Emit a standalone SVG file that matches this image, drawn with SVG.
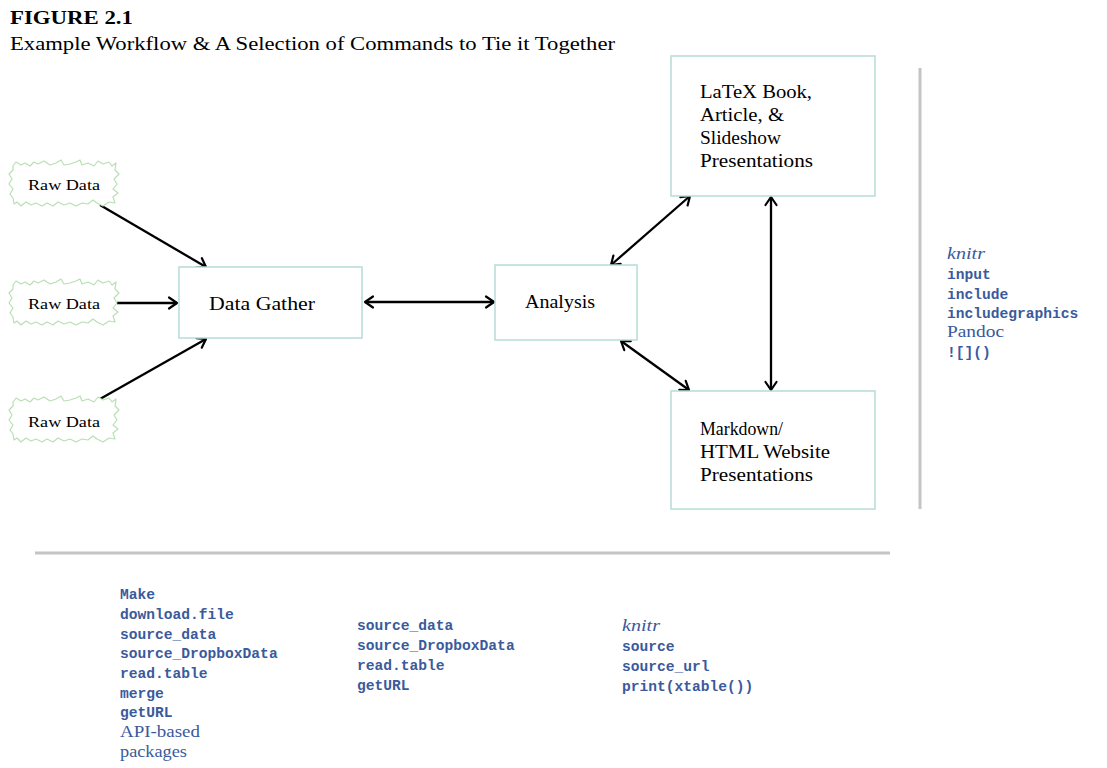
<svg xmlns="http://www.w3.org/2000/svg" width="1107" height="768" viewBox="0 0 1107 768">
<style>
.serif{font-family:"Liberation Serif","Times New Roman",serif;fill:#000}
.lbl{font-size:19px}
.raw{font-size:15px}
.box{fill:#fff;stroke:#b7dcd6;stroke-width:1.5}
.cloud{fill:#fff;stroke:#b9dfb4;stroke-width:1.2;stroke-linejoin:round}
.conn{stroke:#000;stroke-width:2.3;fill:none;marker-end:url(#ah);marker-start:url(#ah)}
.single{marker-start:none}
.sep{stroke:#c4c4c4;stroke-width:3}
.mono{font-family:"Liberation Mono","Courier New",monospace;font-weight:bold;font-size:14.6px;fill:#3a5a9c}
.bserif{font-family:"Liberation Serif","Times New Roman",serif;font-size:17px;fill:#3a5a9c}
.it{font-style:italic}
</style>
<defs>
<marker id="ah" viewBox="-10 -8 12 16" markerWidth="12" markerHeight="16" refX="0" refY="0" orient="auto-start-reverse" markerUnits="userSpaceOnUse">
<path d="M-8,-5.5 L0,0 L-8,5.5" fill="none" stroke="#000" stroke-width="2.2" stroke-linecap="round" stroke-linejoin="round"/>
</marker>
<path id="cloudshape" class="cloud" d="M13,166 L16,162 L21,165 L25,163 L30,166 L34,162 L38,164 L44,161 L50,165 L56,163 L61,160 L64,165 L70,164 L76,162 L80,160 L82,165 L88,163 L94,166 L98,161 L103,164 L109,162 L112,166 L116,163 L115,170 L119,174 L114,179 L117,184 L113,189 L118,193 L113,197 L115,203 L109,202 L103,206 L97,203 L93,200 L88,204 L82,203 L76,206 L70,203 L64,205 L58,202 L53,206 L47,203 L42,206 L36,203 L31,205 L26,202 L21,206 L17,202 L14,204 L13,198 L10,194 L13,189 L9,184 L12,179 L9,174 L13,170 Z"/>
</defs>
<rect width="1107" height="768" fill="#fff"/>

<g id="title">
<text class="serif" x="10" y="24" font-size="19" font-weight="bold" textLength="123" lengthAdjust="spacingAndGlyphs">FIGURE 2.1</text>
<text class="serif" x="10" y="50" font-size="19" textLength="605" lengthAdjust="spacingAndGlyphs">Example Workflow &amp; A Selection of Commands to Tie it Together</text>
</g>

<g id="connectors">
<line class="conn single" x1="100" y1="205" x2="206" y2="267"/>
<line class="conn single" x1="117" y1="303" x2="177" y2="303"/>
<line class="conn single" x1="100" y1="399" x2="206" y2="339"/>
<line class="conn" x1="365" y1="302" x2="494" y2="302"/>
<line class="conn" x1="611" y1="265" x2="690" y2="196"/>
<line class="conn" x1="621" y1="341" x2="689" y2="390"/>
<line class="conn" x1="771" y1="197" x2="771" y2="390"/>
</g>

<g id="raw1">
<use href="#cloudshape"/>
<text class="serif raw" x="28" y="190" textLength="72" lengthAdjust="spacingAndGlyphs">Raw Data</text>
</g>
<g id="raw2">
<use href="#cloudshape" transform="translate(0,119)"/>
<text class="serif raw" x="28" y="309" textLength="72" lengthAdjust="spacingAndGlyphs">Raw Data</text>
</g>
<g id="raw3">
<use href="#cloudshape" transform="translate(0,236)"/>
<text class="serif raw" x="28" y="427" textLength="72" lengthAdjust="spacingAndGlyphs">Raw Data</text>
</g>

<g id="datagather">
<rect class="box" x="179" y="267" width="183" height="71"/>
<text class="serif lbl" x="209" y="310" textLength="106" lengthAdjust="spacingAndGlyphs">Data Gather</text>
</g>

<g id="analysis">
<rect class="box" x="495" y="265" width="142" height="75"/>
<text class="serif lbl" x="525" y="308" textLength="70" lengthAdjust="spacingAndGlyphs">Analysis</text>
</g>

<g id="latex">
<rect class="box" x="671" y="56" width="204" height="140"/>
<text class="serif lbl" x="700" y="98" textLength="112" lengthAdjust="spacingAndGlyphs">LaTeX Book,</text>
<text class="serif lbl" x="700" y="121" textLength="84" lengthAdjust="spacingAndGlyphs">Article, &amp;</text>
<text class="serif lbl" x="700" y="144" textLength="81" lengthAdjust="spacingAndGlyphs">Slideshow</text>
<text class="serif lbl" x="700" y="167" textLength="113" lengthAdjust="spacingAndGlyphs">Presentations</text>
</g>

<g id="markdown">
<rect class="box" x="671" y="391" width="204" height="118"/>
<text class="serif lbl" x="700" y="435" textLength="83" lengthAdjust="spacingAndGlyphs">Markdown/</text>
<text class="serif lbl" x="700" y="458" textLength="130" lengthAdjust="spacingAndGlyphs">HTML Website</text>
<text class="serif lbl" x="700" y="481" textLength="113" lengthAdjust="spacingAndGlyphs">Presentations</text>
</g>

<g id="separators">
<line class="sep" x1="920" y1="68" x2="920" y2="509"/>
<line class="sep" x1="35" y1="553" x2="890" y2="553"/>
</g>

<g id="commands-right">
<text class="bserif it" x="947" y="259" textLength="38" lengthAdjust="spacingAndGlyphs">knitr</text>
<text class="mono" x="947" y="279">input</text>
<text class="mono" x="947" y="299">include</text>
<text class="mono" x="947" y="318">includegraphics</text>
<text class="bserif" x="947" y="337" textLength="57" lengthAdjust="spacingAndGlyphs">Pandoc</text>
<text class="mono" x="947" y="357">![]()</text>
</g>

<g id="commands-gather">
<text class="mono" x="120" y="599">Make</text>
<text class="mono" x="120" y="619">download.file</text>
<text class="mono" x="120" y="639">source_data</text>
<text class="mono" x="120" y="658">source_DropboxData</text>
<text class="mono" x="120" y="678">read.table</text>
<text class="mono" x="120" y="698">merge</text>
<text class="mono" x="120" y="717">getURL</text>
<text class="bserif" x="120" y="737" textLength="80" lengthAdjust="spacingAndGlyphs">API-based</text>
<text class="bserif" x="120" y="757" textLength="67" lengthAdjust="spacingAndGlyphs">packages</text>
</g>

<g id="commands-analysis">
<text class="mono" x="357" y="630">source_data</text>
<text class="mono" x="357" y="650">source_DropboxData</text>
<text class="mono" x="357" y="670">read.table</text>
<text class="mono" x="357" y="690">getURL</text>
</g>

<g id="commands-present">
<text class="bserif it" x="622" y="631" textLength="38" lengthAdjust="spacingAndGlyphs">knitr</text>
<text class="mono" x="622" y="651">source</text>
<text class="mono" x="622" y="671">source_url</text>
<text class="mono" x="622" y="691">print(xtable())</text>
</g>
</svg>
